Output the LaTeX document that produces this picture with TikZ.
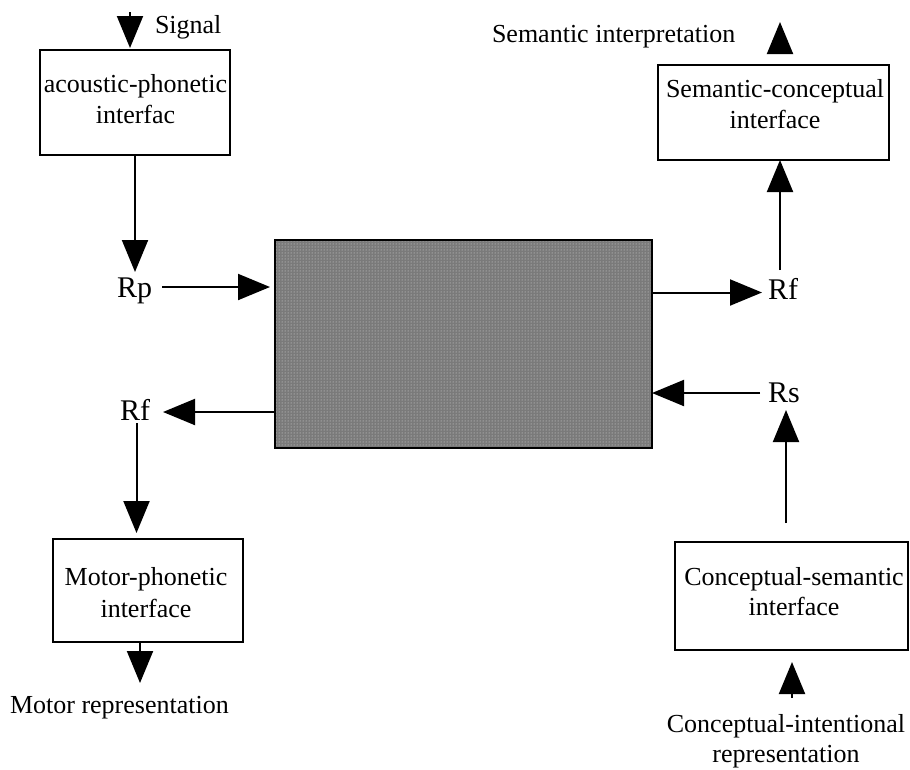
\documentclass[tikz,border=0pt]{standalone}
\usepackage{fontspec}
\setmainfont{Liberation Serif}
\usetikzlibrary{arrows.meta,patterns}

\tikzset{
  every node/.style={inner sep=0pt, outer sep=0pt},
  txt/.style={font=\fontsize{26}{30}\selectfont, anchor=base},
  rlab/.style={font=\fontsize{30}{34}\selectfont, text height=20pt, text depth=0pt, anchor=base west},
  ifbox/.style={draw, line width=2pt, fill=white},
  arr/.style={line width=2pt, -{Triangle[length=32pt,width=26pt]}},
}

\begin{document}
\begin{tikzpicture}[x=1pt, y=-1pt]
\useasboundingbox (0,0) rectangle (910,769);

% central processor block
\node[draw, line width=2pt, fill={rgb,255:red,122;green,122;blue,122},
      minimum width=377pt, minimum height=208pt] (core) at (463.5,344) {};
\fill[pattern=dots, pattern color=white!75!gray] (core.south west) rectangle (core.north east);
\draw[line width=2pt] (core.south west) rectangle (core.north east);

% interface boxes
\node[ifbox, minimum width=190pt, minimum height=105pt] (acoustic) at (135,102.5) {};
\node[ifbox, minimum width=231pt, minimum height=95pt]  (semcon)   at (773.5,112.5) {};
\node[ifbox, minimum width=190pt, minimum height=103pt] (motor)    at (148,590.5) {};
\node[ifbox, minimum width=233pt, minimum height=108pt] (consem)   at (791.5,596) {};

% box captions
\node[txt] (acoustic1) at (135.5,92)  {acoustic-phonetic};
\node[txt] (acoustic2) at (135.5,123) {interfac};
\node[txt] (semcon1)   at (775,97)    {Semantic-conceptual};
\node[txt] (semcon2)   at (775,128)   {interface};
\node[txt] (motor1)    at (146,585)   {Motor-phonetic};
\node[txt] (motor2)    at (146,617)   {interface};
\node[txt] (consem1)   at (794,585)   {Conceptual-semantic};
\node[txt] (consem2)   at (794,615)   {interface};

% free labels
\node[txt, anchor=base west] (signal) at (155,33)  {Signal};
\node[txt, anchor=base west] (semint) at (492,42)  {Semantic interpretation};
\node[txt, anchor=base west] (motrep) at (10,713)  {Motor representation};
\node[txt] (conint1) at (786,732) {Conceptual-intentional};
\node[txt] (conint2) at (786,762) {representation};

% representation labels
\node[rlab] (Rp)  at (117,297) {Rp};
\node[rlab] (Rfr) at (768,299) {Rf};
\node[rlab] (Rs)  at (768,402) {Rs};
\node[rlab] (Rfl) at (120,420) {Rf};

% free arrow ends
\coordinate (sigsrc) at (130,12);
\coordinate (semout) at (780,22);
\coordinate (motout) at (140,683);
\coordinate (cisrc)  at (792,698);

% connectors
\draw[arr, shorten >=2pt] (sigsrc) -- (sigsrc |- acoustic.north);
\draw[arr, shorten >=5pt] (acoustic.south) -- (acoustic.south |- Rp.north);
\draw[arr, shorten <=10pt, shorten >=5pt] (Rp.east) -- (Rp.east -| core.west);
\draw[arr, shorten >=6pt] ([yshift=-3.5pt]Rfr.west -| core.east) -- ([yshift=-3.5pt]Rfr.west);
\draw[arr, shorten <=9pt] ([xshift=-3pt]Rfr.north) -- ([xshift=-3pt]Rfr.north |- semcon.south);
\draw[arr, shorten <=15pt] ([xshift=6.5pt]semcon.north) -- (semout);
\draw[arr, shorten <=8pt] ([yshift=-1pt]Rs.west) -- ([yshift=-1pt]Rs.west -| core.east);
\draw[arr, shorten <=19pt, shorten >=8pt] ([xshift=-5.5pt]consem.north) -- ([xshift=-5.5pt]consem.north |- Rs.south);
\draw[arr, shorten >=12pt] (cisrc) -- (cisrc |- consem.south);
\draw[arr, shorten >=13pt] ([yshift=-2pt]Rfl.east -| core.west) -- ([yshift=-2pt]Rfl.east);
\draw[arr, shorten <=3pt, shorten >=6pt] ([xshift=1.5pt]Rfl.south) -- ([xshift=1.5pt]Rfl.south |- motor.north);
\draw[arr] ([xshift=-8pt]motor.south) -- (motout);
\end{tikzpicture}
\end{document}
